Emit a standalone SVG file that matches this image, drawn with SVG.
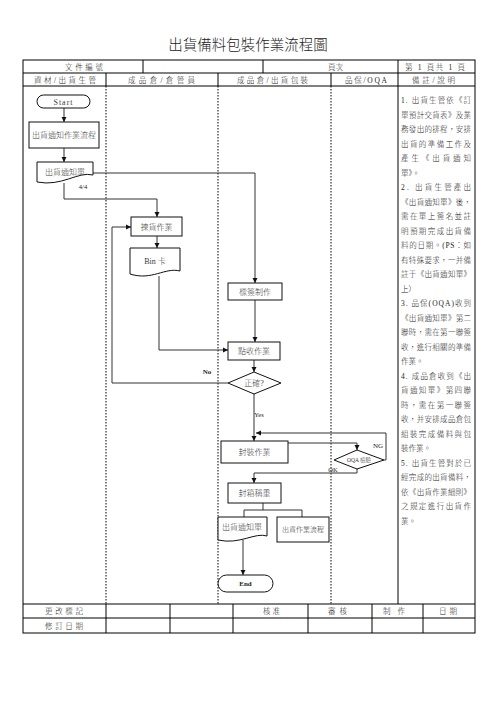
<svg xmlns="http://www.w3.org/2000/svg" width="496" height="702" viewBox="0 0 496 702">
<style>
text{font-family:"Liberation Serif","Noto Sans CJK TC",serif;fill:#222;font-weight:300}
.t{font-size:7.5px;text-anchor:middle}
.n{font-size:8px;text-anchor:middle;fill:#3a3a3a}
.r{font-size:7.5px}
.ln{stroke:#000;stroke-width:1;fill:none}
.dot{stroke:#000;stroke-width:1;stroke-dasharray:1.5 1.5;fill:none}
.box{fill:#fff;stroke:#111;stroke-width:1}
.c{stroke:#333;stroke-width:1;fill:none}
</style>
<defs>
<marker id="ah" markerWidth="6" markerHeight="6" refX="5" refY="3" orient="auto" markerUnits="userSpaceOnUse">
<path d="M0,0.5 L5,3 L0,5.5 Z" fill="#111"/>
</marker>
</defs>
<rect width="496" height="702" fill="#fff"/>
<text x="248" y="50" style="font-size:14.5px;text-anchor:middle;font-family:'Noto Sans CJK TC',sans-serif;fill:#222">出貨備料包裝作業流程圖</text>

<g id="table">
<rect x="23" y="60" width="452" height="573" class="ln"/>
<path class="ln" d="M23,73 H475 M23,86 H475 M23,604 H475 M23,618 H475"/>
<path class="ln" d="M143,60 V73 M263,60 V73 M398,60 V73"/>
<path class="ln" d="M106,73 V86 M218,73 V86 M331,73 V86 M398,73 V604"/>
<path class="dot" d="M106,86 V604 M218,86 V604 M331,86 V604"/>
<path class="ln" d="M106,604 V633 M170,604 V633 M233,604 V633 M308,604 V633 M372,604 V633 M423,604 V633"/>
<text class="t" x="84" y="69.5" textLength="38">文件編號</text>
<text class="t" x="335.5" y="69.5" textLength="15">頁次</text>
<text class="t" x="435" y="69.5" textLength="60">第 1 頁共 1 頁</text>
<text class="t" x="65" y="82.5" textLength="62">資材/出貨生管</text>
<text class="t" x="161.5" y="82.5" textLength="67">成品倉/倉管員</text>
<text class="t" x="272.5" y="82.5" textLength="71">成品倉/出貨包裝</text>
<text class="t" x="366" y="82.5" textLength="42">品保/OQA</text>
<text class="t" x="433.5" y="82.5" textLength="43">備註/說明</text>
<text class="t" x="64" y="614" textLength="38">更改標記</text>
<text class="t" x="64" y="628.5" textLength="38">修訂日期</text>
<text class="t" x="271.5" y="614" textLength="17">核准</text>
<text class="t" x="337.5" y="614" textLength="19">審核</text>
<text class="t" x="394" y="614" textLength="22">制作</text>
<text class="t" x="448" y="614" textLength="18">日期</text>
</g>

<g id="notes" class="r">
<text x="401" y="103" textLength="70">1. 出貨生管依《訂</text>
<text x="401" y="117.5" textLength="70">單預計交貨表》及業</text>
<text x="401" y="132" textLength="70">務發出的排程，安排</text>
<text x="401" y="146.5" textLength="70">出貨的準備工作及</text>
<text x="401" y="161" textLength="70">產生《出貨通知</text>
<text x="401" y="175.5">單》。</text>
<text x="401" y="190" textLength="70">2. 出貨生管產出</text>
<text x="401" y="204.5" textLength="70">《出貨通知單》後，</text>
<text x="401" y="219" textLength="70">需在單上簽名並註</text>
<text x="401" y="233.5" textLength="70">明預期完成出貨備</text>
<text x="401" y="248" textLength="70">料的日期。(PS：如</text>
<text x="401" y="262.5" textLength="70">有特殊要求，一并備</text>
<text x="401" y="277" textLength="70">註于《出貨通知單》</text>
<text x="401" y="291.5">上）</text>
<text x="401" y="306" textLength="70">3. 品保(OQA)收到</text>
<text x="401" y="320.5" textLength="70">《出貨通知單》第二</text>
<text x="401" y="335" textLength="70">聯時，需在第一聯簽</text>
<text x="401" y="349.5" textLength="70">收，進行相關的準備</text>
<text x="401" y="364">作業。</text>
<text x="401" y="378.5" textLength="70">4. 成品倉收到《出</text>
<text x="401" y="393" textLength="70">貨通知單》第四聯</text>
<text x="401" y="407.5" textLength="70">時，需在第一聯簽</text>
<text x="401" y="422" textLength="70">收，并安排成品倉包</text>
<text x="401" y="436.5" textLength="70">組裝完成備料與包</text>
<text x="401" y="451">裝作業。</text>
<text x="401" y="465.5" textLength="70">5. 出貨生管對於已</text>
<text x="401" y="480" textLength="70">經完成的出貨備料，</text>
<text x="401" y="494.5" textLength="70">依《出貨作業細則》</text>
<text x="401" y="509" textLength="70">之規定進行出貨作</text>
<text x="401" y="523.5">業。</text>
</g>

<g id="connectors">
<path class="c" d="M64,108 V122" marker-end="url(#ah)"/>
<path class="c" d="M64,148 V162" marker-end="url(#ah)"/>
<path class="c" d="M93,173 H255 V283" marker-end="url(#ah)"/>
<path class="c" d="M64,183 V199 H157 V217" marker-end="url(#ah)"/>
<path class="c" d="M157,236 V248" marker-end="url(#ah)"/>
<path class="c" d="M159,276 V350 H228" marker-end="url(#ah)"/>
<path class="c" d="M255,300 V342" marker-end="url(#ah)"/>
<path class="c" d="M254,360 V372" marker-end="url(#ah)"/>
<path class="c" d="M228,383 H112 V227 H131" marker-end="url(#ah)"/>
<path class="c" d="M254,394 V441" marker-end="url(#ah)"/>
<path class="c" d="M288,443 H357 V450" marker-end="url(#ah)"/>
<path class="c" d="M384,460 H386 V433 H256" marker-end="url(#ah)"/>
<path class="c" d="M357,469 V473 H254 V483" marker-end="url(#ah)"/>
<path class="c" d="M263,503 V510 M244,510 H302 M244,510 V517 M302,510 V517"/>
<path class="c" d="M243,540 V575" marker-end="url(#ah)"/>
<text x="83" y="189" style="font-size:6.5px;text-anchor:middle">4/4</text>
<text x="207" y="374" style="font-size:7px;text-anchor:middle;font-weight:bold">No</text>
<text x="259" y="417" style="font-size:6.5px;text-anchor:middle">Yes</text>
<text x="378" y="448" style="font-size:7px;text-anchor:middle">NG</text>
<text x="333" y="472" style="font-size:6.5px;text-anchor:middle">OK</text>
</g>

<g id="start">
<rect x="37" y="95" width="53" height="13" rx="6.5" class="box"/>
<text class="n" x="63.5" y="104.5" style="letter-spacing:1px">Start</text>
</g>
<g id="notice-flow">
<rect x="29" y="122" width="70" height="26" class="box"/>
<text class="n" x="64" y="138">出貨通知作業流程</text>
</g>
<g id="notice-doc">
<path class="box" d="M37,162 H93 V175 C78,171 62,187 37,182 Z"/>
<text class="n" x="65" y="175">出貨通知單</text>
</g>
<g id="picking">
<rect x="131" y="217" width="51" height="19" class="box"/>
<text class="n" x="156.5" y="229.5">揀貨作業</text>
</g>
<g id="bin-card">
<path class="box" d="M130,248 H180 V271 C165,267 152,281 130,274 Z"/>
<text class="n" x="155" y="264">Bin 卡</text>
</g>
<g id="label-making">
<rect x="228" y="283" width="54" height="17" class="box"/>
<text class="n" x="255" y="294.5">標簽制作</text>
</g>
<g id="check">
<rect x="228" y="342" width="52" height="18" class="box"/>
<text class="n" x="254" y="354">點收作業</text>
</g>
<g id="correct">
<path class="box" d="M254,372 L281,383 L254,394 L228,383 Z"/>
<text class="n" x="254" y="386">正確?</text>
</g>
<g id="packing">
<rect x="221" y="441" width="67" height="22" class="box"/>
<text class="n" x="254.5" y="455">封裝作業</text>
</g>
<g id="oqa">
<path class="box" d="M357,450 L384,460 L357,469 L334,460 Z"/>
<text x="359" y="462" style="font-size:5.5px;text-anchor:middle;fill:#333">OQA 檢驗</text>
</g>
<g id="boxing">
<rect x="228" y="483" width="53" height="20" class="box"/>
<text class="n" x="254.5" y="496">封箱稱重</text>
</g>
<g id="notice-doc-2">
<path class="box" d="M218,517 H267 V536 C255,532 240,545 218,540 Z"/>
<text class="n" x="242" y="530">出貨通知單</text>
</g>
<g id="ship-flow">
<rect x="277" y="517" width="52" height="25" class="box"/>
<text x="303" y="531.5" style="font-size:7px;text-anchor:middle;fill:#333">出貨作業流程</text>
</g>
<g id="end">
<rect x="218" y="575" width="55" height="17" rx="8.5" class="box"/>
<text x="245.5" y="586" style="font-size:7px;text-anchor:middle;font-weight:bold">End</text>
</g>
</svg>
